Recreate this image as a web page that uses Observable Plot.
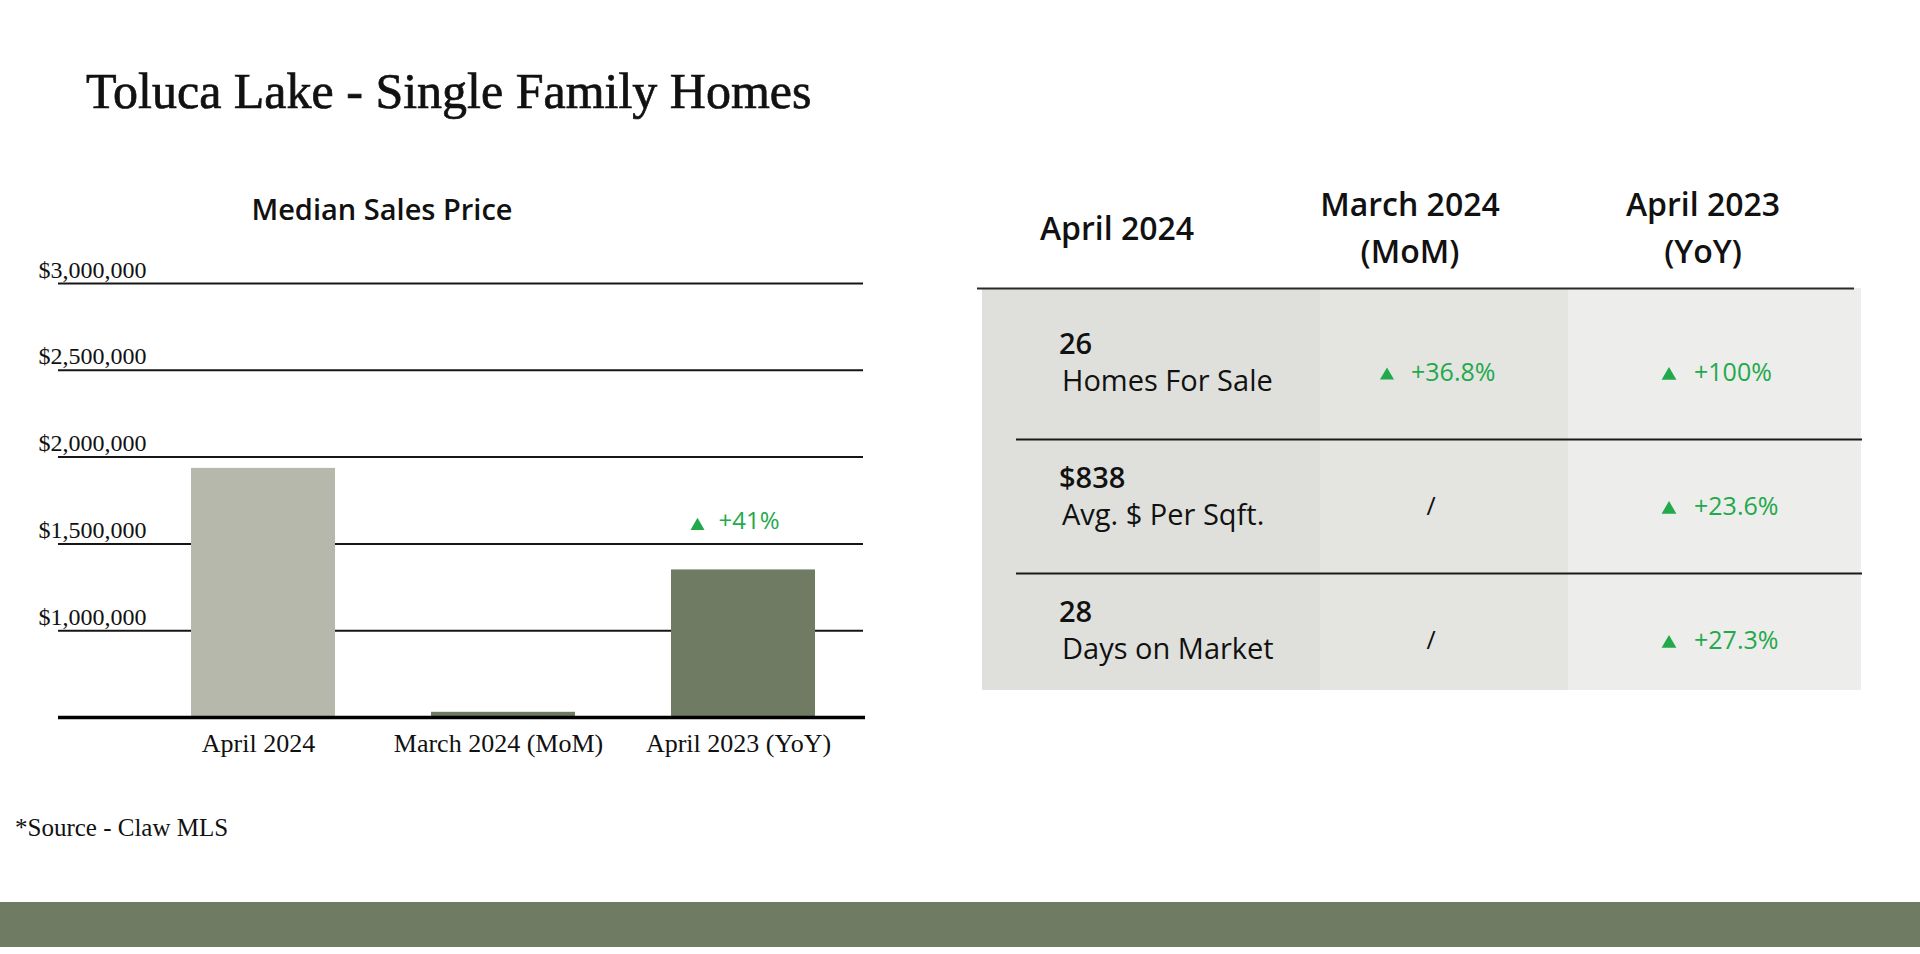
<!DOCTYPE html>
<html>
<head>
<meta charset="utf-8">
<script src="https://cdn.jsdelivr.net/npm/d3@7"></script>
<script src="https://cdn.jsdelivr.net/npm/@observablehq/plot@0.6"></script>
<style>
  html, body { margin: 0; padding: 0; background: #fff; }
  #page { position: relative; width: 1920px; height: 954px; overflow: hidden; background: #fff; }
  .abs { position: absolute; white-space: nowrap; line-height: 1; }
  #title { left: 86px; top: 66px; font-family: "Liberation Serif", "DejaVu Serif", serif; font-size: 50px; color: #111; -webkit-text-stroke: 0.7px #111; }
  #chartTitle { left: 182px; width: 400px; text-align: center; top: 194px; font-family: "Open Sans", "Noto Sans", sans-serif; font-weight: 600; font-size: 29px; color: #111; }
  #chart { left: 0; top: 250px; }
  #table { left: 960px; top: 150px; }
  #source { left: 15px; top: 815px; font-family: "Liberation Serif", "DejaVu Serif", serif; font-size: 25px; color: #111; }
  #band { left: 0; top: 902px; width: 1920px; height: 45px; background: #6f7b63; }
</style>
</head>
<body>
<div id="page">
  <div id="title" class="abs">Toluca Lake - Single Family Homes</div>
  <div id="chartTitle" class="abs">Median Sales Price</div>
  <div id="chart" class="abs"></div>
  <div id="table" class="abs"></div>
  <div id="source" class="abs">*Source - Claw MLS</div>
  <div id="band" class="abs"></div>
</div>
<script>
// ---- Data: bar chart ----
const categories = ["April 2024", "March 2024 (MoM)", "April 2023 (YoY)"];
const medianPrices = [1935000, 530000, 1350000];
const changeLabels = [null, null, "+41%"];
const yTicks = [1000000, 1500000, 2000000, 2500000, 3000000];
const yDomain = [500000, 3000000];

// ---- Data: summary table ----
const tableColumns = ["April 2024", "March 2024\n(MoM)", "April 2023\n(YoY)"];
const tableRows = ["Homes For Sale", "Avg. $ Per Sqft.", "Days on Market"];
const currentValues = ["26", "$838", "28"];
const momChanges = ["+36.8%", "/", "/"];
const yoyChanges = ["+100%", "+23.6%", "+27.3%"];

// ---- Styles ----
const serif = "'Liberation Serif', 'DejaVu Serif', serif";
const sans = "'Open Sans', 'Noto Sans', sans-serif";
const green = "#22a94c";
const ink = "#111111";

// ---- Bar chart ----
const bars = categories.map((c, i) => ({category: c, price: medianPrices[i], change: changeLabels[i]}));
const withChange = bars.filter(d => d.change);

const chart = Plot.plot({
  width: 900,
  height: 530,
  marginLeft: 58,
  marginRight: 37,
  marginTop: 33,
  marginBottom: 63,
  style: {background: "transparent", overflow: "visible", color: ink},
  x: {domain: categories, range: [143, 863], paddingInner: 0.4, paddingOuter: 0.2, label: null},
  y: {domain: yDomain, label: null},
  color: {domain: categories, range: ["#b6b8ab", "#6f7b63", "#6f7b63"]},
  marks: [
    Plot.ruleY(yTicks, {stroke: "#161616", strokeWidth: 2}),
    Plot.barY(bars, {x: "category", y1: yDomain[0], y2: "price", fill: "category"}),
    Plot.ruleY([yDomain[0]], {stroke: "#000", strokeWidth: 3.5, insetRight: -2}),
    Plot.axisY(yTicks, {
      tickSize: 0, tickPadding: 0, textAnchor: "start", lineAnchor: "bottom",
      dx: -20, dy: -6, tickFormat: d3.format("$,"), fontSize: 24,
      fontFamily: serif, fill: ink, label: null
    }),
    Plot.axisX({tickSize: 0, tickPadding: 16, dx: -5, fontSize: 26, fontFamily: serif, fill: ink, label: null}),
    Plot.dot(withChange, {x: "category", y: "price", symbol: "triangle", r: 5.2, fill: green, stroke: null, dx: -46, dy: -44}),
    Plot.text(withChange, {
      x: "category", y: "price", text: "change", textAnchor: "start", lineAnchor: "bottom",
      dx: -25, dy: -41, fontSize: 24, fontFamily: sans, fill: green
    })
  ]
});
document.getElementById("chart").append(chart);

// ---- Summary table ----
const cellsBg = tableColumns.flatMap(col => tableRows.map(row => ({col, row})));
const firstColBg = cellsBg.filter(d => d.col === tableColumns[0]);
const rowsData = tableRows.map((row, i) => ({row, value: currentValues[i], mom: momChanges[i], yoy: yoyChanges[i]}));
const isUp = s => s.startsWith("+");
const momUp = rowsData.filter(d => isUp(d.mom));
const momFlat = rowsData.filter(d => !isUp(d.mom));
const yoyUp = rowsData.filter(d => isUp(d.yoy));
const yoyFlat = rowsData.filter(d => !isUp(d.yoy));

const table = Plot.plot({
  width: 920,
  height: 560,
  marginLeft: 21,
  marginRight: 18,
  marginTop: 138,
  marginBottom: 20,
  style: {background: "transparent", overflow: "visible", color: ink},
  x: {domain: tableColumns, padding: 0, axis: null},
  y: {domain: tableRows, padding: 0, axis: null},
  color: {domain: tableColumns, range: ["#dfe0dc", "#e4e5e1", "#ededeb"]},
  marks: [
    Plot.cell(cellsBg, {x: "col", y: "row", fill: "col"}),
    // first column is wider than the others in the reference layout
    Plot.cell(firstColBg, {x: "col", y: "row", fill: "col", insetRight: -45}),
    // header rule (top of first row)
    Plot.ruleY(tableRows.slice(0, 1), {dy: -67, stroke: "#2a2a2a", strokeWidth: 2, insetLeft: -4, insetRight: 8}),
    // row dividers
    Plot.ruleY(tableRows.slice(1), {dy: -50, stroke: "#1a1a1a", strokeWidth: 2, insetLeft: 35}),
    // column headers
    Plot.text(tableColumns, {
      x: d => d, text: d => d, frameAnchor: "top", dy: -64, dx: -12,
      lineAnchor: "middle", lineHeight: 1.47, fontSize: 32, fontWeight: 600, fontFamily: sans, fill: ink
    }),
    // current values
    Plot.text(rowsData, {
      x: () => tableColumns[0], y: "row", text: "value", textAnchor: "start", lineAnchor: "bottom",
      dx: -70, dy: -2, fontSize: 29, fontWeight: 600, fontFamily: sans, fill: ink
    }),
    Plot.text(rowsData, {
      x: () => tableColumns[0], y: "row", text: "row", textAnchor: "start", lineAnchor: "bottom",
      dx: -67, dy: 35, fontSize: 29, fontWeight: 400, fontFamily: sans, fill: ink
    }),
    // MoM column
    Plot.dot(momUp, {x: () => tableColumns[1], y: "row", symbol: "triangle", r: 5.2, fill: green, stroke: null, dx: -35, dy: 20}),
    Plot.text(momUp, {
      x: () => tableColumns[1], y: "row", text: "mom", textAnchor: "start", lineAnchor: "bottom",
      dx: -11, dy: 25, fontSize: 25, fontFamily: sans, fill: green
    }),
    Plot.text(momFlat, {
      x: () => tableColumns[1], y: "row", text: "mom", textAnchor: "middle", lineAnchor: "bottom",
      dx: 9, dy: 25, fontSize: 25, fontFamily: sans, fill: ink
    }),
    // YoY column
    Plot.dot(yoyUp, {x: () => tableColumns[2], y: "row", symbol: "triangle", r: 5.5, fill: green, stroke: null, dx: -46, dy: 20}),
    Plot.text(yoyUp, {
      x: () => tableColumns[2], y: "row", text: "yoy", textAnchor: "start", lineAnchor: "bottom",
      dx: -21, dy: 25, fontSize: 25, fontFamily: sans, fill: green
    }),
    Plot.text(yoyFlat, {
      x: () => tableColumns[2], y: "row", text: "yoy", textAnchor: "middle", lineAnchor: "bottom",
      dx: 4, dy: 25, fontSize: 25, fontFamily: sans, fill: ink
    })
  ]
});
document.getElementById("table").append(table);
</script>
</body>
</html>
